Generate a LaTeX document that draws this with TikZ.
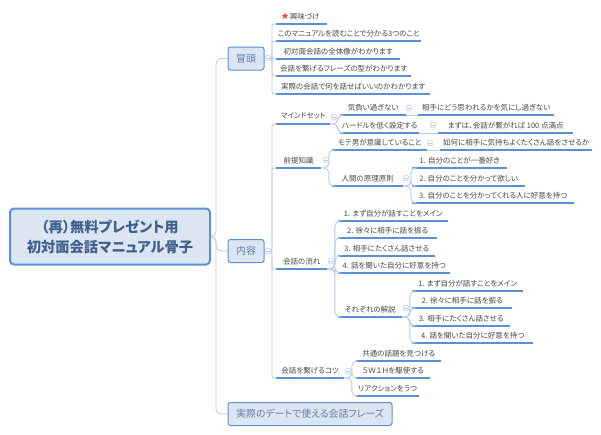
\documentclass[tikz,border=0pt]{standalone}
\usepackage{fontspec}
\setmainfont{Noto Sans CJK JP}[RawFeature=+palt]
\usetikzlibrary{shapes.geometric}
\definecolor{rim}{HTML}{5B8FD6}
\definecolor{pale}{HTML}{B4CDEE}
\definecolor{boxfill}{HTML}{DCE6F2}
\definecolor{boxtext}{HTML}{5F7DA6}
\definecolor{roottext}{HTML}{3F5F8C}
\tikzset{
	rootbox/.style={draw=rim, line width=2pt, fill=boxfill, rounded corners=4pt, minimum width=200, minimum height=56, inner sep=0, align=center, text=roottext, font=\bfseries\fontsize{14.3}{20}\selectfont},
	mainbox/.style={draw=rim, line width=1pt, fill=boxfill, rounded corners=2.5pt, minimum height=23, inner sep=0, text=boxtext, font=\fontsize{9.9}{11}\selectfont},
	leaf/.style={anchor=south west, minimum width=#1, minimum height=15, inner sep=0, text=black!72, font=\fontsize{7.5}{9}\selectfont, append after command={(\tikzlastnode.south west) edge[draw=rim, line width=1.2pt] (\tikzlastnode.south east)}},
	bough/.style={draw=pale, line width=.9pt, rounded corners=#1, to path={-- ++(5,0) |- (\tikztotarget)}},
	twig/.style={draw=pale, line width=.9pt, rounded corners=#1, to path={-- ++(7.5,0) |- (\tikztotarget)}},
	fold/.style={circle, draw=pale, fill=white, line width=.5pt, minimum size=6, inner sep=0, path picture={\draw[pale, line width=.5pt] ([xshift=1.2pt]path picture bounding box.west) -- ([xshift=-1.2pt]path picture bounding box.east);}},
}
\begin{document}
\begin{tikzpicture}[x=1pt, y=-1pt]
	\useasboundingbox (0, 0) rectangle (601, 434);

	\node[rootbox] (root) at (110, 236.5) {（再）無料プレゼント用\\初対面会話マニュアル骨子};
	\node[mainbox, minimum width=36] (intro) at (246, 58.5) {冒頭};
	\node[mainbox, minimum width=36] (body) at (246, 251) {内容};
	\node[mainbox, minimum width=164] (phrases) at (310, 414) {実際のデートで使える会話フレーズ};

	\node[star, star points=5, star point ratio=2.3, fill=red!75!white, minimum size=7, inner sep=0] (mark) at (285, 16) {};
	\node[leaf=51] (hook) at (276, 24) {\hspace{6pt}興味づけ};
	\node[leaf=145] (three) at (276, 41) {このマニュアルを読むことで分かる3つのこと};
	\node[leaf=124] (whole) at (276, 59) {初対面会話の全体像がわかります};
	\node[leaf=135] (joins) at (276, 76) {会話を繋げるフレーズの型がわかります};
	\node[leaf=154] (talk) at (276, 94) {実際の会話で何を話せばいいのかわかります};

	\node[leaf=54] (mindset) at (276, 124) {マインドセット};
	\node[leaf=66] (relaxed) at (340, 115) {気負い過ぎない};
	\node[leaf=136] (image) at (418, 115) {相手にどう思われるかを気にし過ぎない};
	\node[leaf=79] (hurdle) at (340, 133) {ハードルを低く設定する};
	\node[leaf=135] (score) at (438, 133) {まずは、会話が繋がれば 100 点満点};

	\node[leaf=45] (premise) at (276, 168) {前提知識};
	\node[leaf=95] (popular) at (332, 150) {モテ男が意識していること};
	\node[leaf=152] (please) at (440, 150) {如何に相手に気持ちよくたくさん話をさせるか};
	\node[leaf=71] (human) at (332, 186) {人間の原理原則};
	\node[leaf=95] (likeself) at (412, 168) {1. 自分のことが一番好き};
	\node[leaf=113] (known) at (412, 186) {2. 自分のことを分かって欲しい};
	\node[leaf=162] (fond) at (412, 203) {3. 自分のことを分かってくれる人に好意を持つ};

	\node[leaf=51] (flow) at (276, 269) {会話の流れ};
	\node[leaf=110] (flowa) at (338, 221) {1. まず自分が話すことをメイン};
	\node[leaf=99] (flowb) at (338, 238) {2. 徐々に相手に話を振る};
	\node[leaf=97] (flowc) at (338, 256) {3. 相手にたくさん話させる};
	\node[leaf=112] (flowd) at (338, 273) {4. 話を聞いた自分に好意を持つ};
	\node[leaf=64] (notes) at (338, 317) {それぞれの解説};
	\node[leaf=111] (notea) at (412, 291) {1. まず自分が話すことをメイン};
	\node[leaf=100] (noteb) at (412, 308) {2. 徐々に相手に話を振る};
	\node[leaf=98] (notec) at (412, 326) {3. 相手にたくさん話させる};
	\node[leaf=121] (noted) at (412, 343) {4. 話を聞いた自分に好意を持つ};

	\node[leaf=68] (tips) at (276, 378) {会話を繋げるコツ};
	\node[leaf=85] (common) at (356, 361) {共通の話題を見つける};
	\node[leaf=74] (fivew) at (356, 378) {５Ｗ１Ｈを駆使する};
	\node[leaf=63] (react) at (356, 396) {リアクションをうつ};

	\draw[bough=5pt] (root.east) to (intro.west);
	\draw[bough=5pt] (root.east) to (body.west);
	\draw[bough=5pt] (root.east) to (phrases.west);

	\draw[twig=2pt] (intro.east) to (hook.south west);
	\draw[twig=2pt] (intro.east) to (three.south west);
	\draw[twig=2pt] (intro.east) to (whole.south west);
	\draw[twig=2pt] (intro.east) to (joins.south west);
	\draw[twig=2pt] (intro.east) to (talk.south west);

	\draw[twig=2pt] (body.east) to (mindset.south west);
	\draw[twig=2pt] (body.east) to (premise.south west);
	\draw[twig=2pt] (body.east) to (flow.south west);
	\draw[twig=2pt] (body.east) to (tips.south west);

	\draw[twig=5pt] (mindset.south east) to (relaxed.south west);
	\draw[twig=5pt] (mindset.south east) to (hurdle.south west);
	\draw[pale, line width=.9pt] (relaxed.south east) -- (image.south west);
	\draw[pale, line width=.9pt] (hurdle.south east) -- (score.south west);

	\draw[twig=5pt] (premise.south east) to (popular.south west);
	\draw[twig=5pt] (premise.south east) to (human.south west);
	\draw[pale, line width=.9pt] (popular.south east) -- (please.south west);
	\draw[twig=5pt] (human.south east) to (likeself.south west);
	\draw[twig=5pt] (human.south east) to (known.south west);
	\draw[twig=5pt] (human.south east) to (fond.south west);

	\draw[twig=5pt] (flow.south east) to (flowa.south west);
	\draw[twig=5pt] (flow.south east) to (flowb.south west);
	\draw[twig=5pt] (flow.south east) to (flowc.south west);
	\draw[twig=5pt] (flow.south east) to (flowd.south west);
	\draw[twig=5pt] (flow.south east) to (notes.south west);
	\draw[twig=5pt] (notes.south east) to (notea.south west);
	\draw[twig=5pt] (notes.south east) to (noteb.south west);
	\draw[twig=5pt] (notes.south east) to (notec.south west);
	\draw[twig=5pt] (notes.south east) to (noted.south west);

	\draw[twig=5pt] (tips.south east) to (common.south west);
	\draw[twig=5pt] (tips.south east) to (fivew.south west);
	\draw[twig=5pt] (tips.south east) to (react.south west);

	\node[fold] (foldintro) at (268, 58) {};
	\node[fold] (foldbody) at (268, 251) {};
	\node[fold] (foldmind) at (334, 117) {};
	\node[fold] (foldrelaxed) at (409, 108) {};
	\node[fold] (foldhurdle) at (433, 125) {};
	\node[fold] (foldpremise) at (326, 160) {};
	\node[fold] (foldpopular) at (430, 143) {};
	\node[fold] (foldhuman) at (406, 178) {};
	\node[fold] (foldflow) at (331, 261) {};
	\node[fold] (foldnotes) at (406, 308) {};
	\node[fold] (foldtips) at (348, 371) {};
\end{tikzpicture}
\end{document}
